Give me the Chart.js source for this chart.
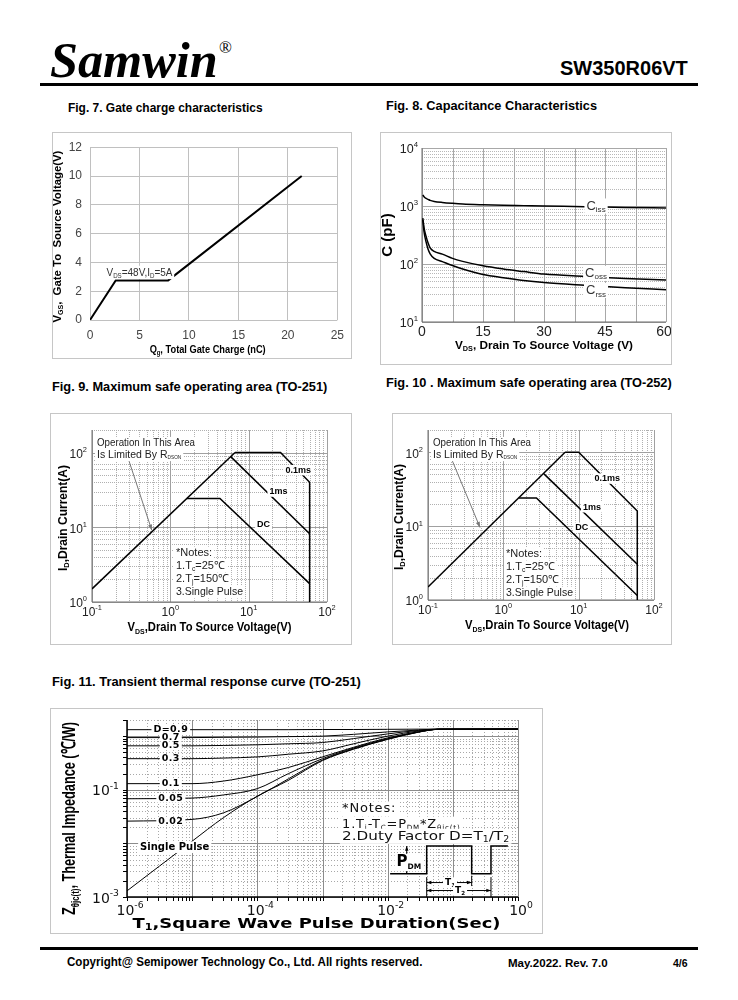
<!DOCTYPE html>
<html>
<head>
<meta charset="utf-8">
<title>SW350R06VT</title>
<script src="https://cdn.jsdelivr.net/npm/chart.js@4.4.1/dist/chart.umd.min.js"></script>
<style>
  body { margin: 0; width: 738px; height: 1000px; background: #fff; position: relative; overflow: hidden; font-family: "Liberation Sans", Arial, sans-serif; }
  .t { position: absolute; white-space: nowrap; transform-origin: 0 50%; line-height: 1; color: #000; }
  .rule { position: absolute; background: #000; }
  canvas { position: absolute; }
</style>
</head>
<body>
<div class="t" data-w="168" style="left:50px;top:60px;font:italic bold 50px 'Liberation Serif',serif;">Samwin</div>
<div class="t" style="left:219px;top:48px;font:17px 'Liberation Serif',serif;">®</div>
<div class="t" data-w="128" style="left:560px;top:68px;font:bold 20px 'Liberation Sans',Arial,sans-serif;">SW350R06VT</div>
<div class="rule" style="left:40px;top:83px;width:658px;height:3px;"></div>

<div class="t" data-w="195" style="left:68px;top:108px;font:bold 12.5px 'Liberation Sans',Arial,sans-serif;">Fig. 7. Gate charge characteristics</div>
<div class="t" data-w="211" style="left:386px;top:106px;font:bold 12.5px 'Liberation Sans',Arial,sans-serif;">Fig. 8. Capacitance Characteristics</div>
<div class="t" data-w="275" style="left:52px;top:387px;font:bold 12.5px 'Liberation Sans',Arial,sans-serif;">Fig. 9. Maximum safe operating area (TO-251)</div>
<div class="t" data-w="286" style="left:386px;top:383px;font:bold 12.5px 'Liberation Sans',Arial,sans-serif;">Fig. 10 . Maximum safe operating area (TO-252)</div>
<div class="t" data-w="309" style="left:52px;top:682px;font:bold 12.5px 'Liberation Sans',Arial,sans-serif;">Fig. 11. Transient thermal response curve (TO-251)</div>

<div class="rule" style="left:40px;top:947px;width:658px;height:3px;"></div>
<div class="t" data-w="355" style="left:67px;top:962px;font:bold 12px 'Liberation Sans',Arial,sans-serif;">Copyright@ Semipower Technology Co., Ltd. All rights reserved.</div>
<div class="t" data-w="100" style="left:508px;top:963px;font:bold 10.5px 'Liberation Sans',Arial,sans-serif;">May.2022. Rev. 7.0</div>
<div class="t" data-w="15" style="left:673px;top:963px;font:bold 10.5px 'Liberation Sans',Arial,sans-serif;">4/6</div>

<script>
// ---------- data ----------
// Fig. 7 gate charge
const qgCharge = [0, 2.6, 7.9, 21.4];
const qgVgs = [0, 2.75, 2.75, 10];

// Fig. 8 capacitance
const capVds = [0.2, 0.5, 1, 1.5, 2, 3, 5, 7.5, 10, 15, 20, 25, 30, 40, 50, 60];
const ciss = [1550, 1450, 1350, 1300, 1250, 1200, 1150, 1110, 1080, 1050, 1030, 1015, 1000, 975, 945, 925];
const coss = [620, 420, 300, 230, 190, 165, 148, 125, 111, 93, 82, 74, 67, 61, 56, 53];
const crss = [580, 360, 240, 180, 150, 125, 110, 94, 82, 66, 58, 52, 48, 43, 39, 36];

// Fig. 9 SOA TO-251  [Vds, Id]
const soa251Rds = [[0.1, 1.5], [6.7, 100]];
const soa251P01 = [[6.7, 100], [25.5, 100], [60, 40], [60, 1]];
const soa251P1 = [[5.9, 88], [60, 8.2]];
const soa251DC = [[1.62, 24.3], [4.3, 24.3], [60, 1.76]];

// Fig. 10 SOA TO-252
const soa252Rds = [[0.1, 1.5], [6.6, 100]];
const soa252P01 = [[6.6, 100], [10, 100], [60, 16], [60, 1]];
const soa252P1 = [[3.46, 51], [60, 3.05]];
const soa252DC = [[1.6, 24], [2.75, 24], [60, 1.15]];

// Fig. 11 transient thermal impedance
const zthT = [1e-6, 1e-5, 3e-5, 1e-4, 3e-4, 1e-3, 3e-3, 1e-2, 3e-2, 6e-2, 1];
const zthD09 = [1.32, 1.32, 1.32, 1.32, 1.32, 1.33, 1.33, 1.34, 1.35, 1.35, 1.35];
const zthD07 = [0.94, 0.94, 0.95, 0.96, 0.98, 1.0, 1.08, 1.2, 1.3, 1.35, 1.35];
const zthD05 = [0.66, 0.66, 0.67, 0.69, 0.72, 0.76, 0.9, 1.1, 1.28, 1.35, 1.35];
const zthD03 = [0.38, 0.38, 0.39, 0.41, 0.46, 0.53, 0.72, 1.0, 1.25, 1.34, 1.35];
const zthD01 = [0.13, 0.13, 0.145, 0.19, 0.26, 0.41, 0.62, 0.93, 1.21, 1.34, 1.35];
const zthD005 = [0.068, 0.07, 0.08, 0.105, 0.2, 0.38, 0.6, 0.9, 1.2, 1.34, 1.35];
const zthD002 = [0.026, 0.028, 0.037, 0.075, 0.16, 0.36, 0.58, 0.88, 1.19, 1.34, 1.35];
const zthSingle = [0.0013, 0.011, 0.03, 0.076, 0.15, 0.35, 0.57, 0.87, 1.19, 1.34, 1.35];
const dutyLabels = ["D=0.9", "0.7", "0.5", "0.3", "0.1", "0.05", "0.02"];

// pulse sketch in the notes of fig. 11
const pulseX = [0.0109, 0.0397, 0.0397, 0.1945, 0.1945, 0.385, 0.385, 0.70];
const pulseY = [0.00272, 0.00272, 0.00889, 0.00889, 0.00272, 0.00272, 0.00889, 0.00889];

// ---------- helpers ----------
const SANS = '"Liberation Sans", Arial, sans-serif';
const WIDE = '"DejaVu Sans", Verdana, sans-serif';

document.querySelectorAll('.t[data-w]').forEach(el => {
    const k = parseFloat(el.dataset.w) / el.offsetWidth;
    el.style.transform = 'translateY(-50%) scaleX(' + k + ')';
});
document.querySelectorAll('.t:not([data-w])').forEach(el => {
    el.style.transform = 'translateY(-50%)';
});

// parts: "_x" = subscript, "^x" = superscript
function richText(ctx, parts, x, y, st) {
    const size = st.size || 12;
    const fam = st.family || SANS;
    const weight = st.weight || 'normal';
    const segs = parts.map(p => {
        let mode = 0, txt = p;
        if (p[0] === '_') { mode = 1; txt = p.slice(1); }
        else if (p[0] === '^') { mode = 2; txt = p.slice(1); }
        return { txt: txt, mode: mode, fs: mode ? size * (st.subScale || 0.62) : size };
    });
    ctx.save();
    ctx.translate(x, y);
    if (st.rotate) ctx.rotate(st.rotate);
    ctx.letterSpacing = (st.ls || 0) + 'px';
    let w = 0;
    segs.forEach(s => {
        ctx.font = weight + ' ' + s.fs + 'px ' + fam;
        s.w = ctx.measureText(s.txt).width;
        w += s.w;
    });
    const sx = st.fitW ? st.fitW / w : (st.sx || 1);
    ctx.scale(sx, 1);
    let cx = st.align === 'center' ? -w / 2 : st.align === 'right' ? -w : 0;
    if (st.bg) {
        const bh = size * (st.bgH || 1.16);
        ctx.fillStyle = st.bg;
        ctx.fillRect(cx - 2, -bh / 2, w + 4, bh);
    }
    ctx.fillStyle = st.color || '#000';
    ctx.textBaseline = 'middle';
    segs.forEach(s => {
        ctx.font = weight + ' ' + s.fs + 'px ' + fam;
        const dy = s.mode === 1 ? size * 0.3 : s.mode === 2 ? -size * 0.38 : 0;
        ctx.fillText(s.txt, cx, dy);
        cx += s.w;
    });
    ctx.restore();
}

function arrowHead(ctx, x1, y1, x2, y2, len) {
    const a = Math.atan2(y2 - y1, x2 - x1);
    ctx.beginPath();
    ctx.moveTo(x2, y2);
    ctx.lineTo(x2 - len * Math.cos(a - 0.35), y2 - len * Math.sin(a - 0.35));
    ctx.lineTo(x2 - len * Math.cos(a + 0.35), y2 - len * Math.sin(a + 0.35));
    ctx.closePath();
    ctx.fill();
}

function decades(lo, hi) {
    const out = [];
    for (let d = lo; d <= hi * 1.0001; d *= 10) out.push(d);
    return out;
}
function minors(lo, hi, top) {
    const out = [];
    for (let d = lo; d < hi * 0.999; d *= 10) {
        for (let m = 2; m <= 9; m++) if (d * m <= top * 1.0001) out.push(d * m);
    }
    return out;
}

// inline plugin: own grid lines behind the data, texts on top
function paper(cfg) {
    return {
        id: 'paper',
        beforeDatasetsDraw(chart) {
            const { ctx, chartArea: a, scales: { x, y } } = chart;
            const line = (x1, y1, x2, y2) => { ctx.beginPath(); ctx.moveTo(x1, y1); ctx.lineTo(x2, y2); ctx.stroke(); };
            const px = v => Math.round(x.getPixelForValue(v)) + 0.5;
            const py = v => Math.round(y.getPixelForValue(v)) + 0.5;
            ctx.save();
            ctx.lineWidth = 1;
            ctx.strokeStyle = cfg.minorColor || '#b4b4b4';
            ctx.setLineDash(cfg.minorDash || [1, 1]);
            (cfg.xMinor || []).forEach(v => line(px(v), a.top, px(v), a.bottom));
            (cfg.yMinor || []).forEach(v => line(a.left, py(v), a.right, py(v)));
            ctx.setLineDash([]);
            ctx.strokeStyle = cfg.majorColor || '#9a9a9a';
            (cfg.xMajor || []).forEach(v => line(px(v), a.top, px(v), a.bottom));
            (cfg.yMajor || []).forEach(v => line(a.left, py(v), a.right, py(v)));
            if (cfg.outTicks) {
                ctx.strokeStyle = '#000';
                (cfg.xMajor || []).concat(cfg.xMinor || []).forEach(v => line(px(v), a.bottom, px(v), a.bottom + 4));
                (cfg.yMajor || []).concat(cfg.yMinor || []).forEach(v => line(a.left - 4, py(v), a.left, py(v)));
            }
            if (cfg.axisColor) {
                ctx.strokeStyle = cfg.axisColor;
                ctx.lineWidth = cfg.axisWidth || 1;
                line(a.left, a.top, a.left, a.bottom);
                line(a.left, a.bottom, a.right, a.bottom);
            }
            ctx.restore();
        },
        afterDatasetsDraw(chart) {
            const { ctx, chartArea: a, scales: { x, y } } = chart;
            ctx.save();
            if (cfg.extra) cfg.extra(ctx, a, x, y);
            (cfg.xTicks || []).forEach(t => richText(ctx, t[1], x.getPixelForValue(t[0]) + (cfg.xTickDx || 0), a.bottom + cfg.xTickGap, cfg.tickStyle));
            (cfg.yTicks || []).forEach(t => richText(ctx, t[1], a.left - cfg.yTickGap, y.getPixelForValue(t[0]) + (cfg.yTickDy || 0), Object.assign({}, cfg.tickStyle, { align: 'right' })));
            (cfg.texts || []).forEach(t => {
                const p = t.at ? t.at(a) : [x.getPixelForValue(t.x), y.getPixelForValue(t.y)];
                richText(ctx, t.parts, p[0] + (t.dx || 0), p[1] + (t.dy || 0), t);
            });
            ctx.restore();
        }
    };
}

function mount(box) {
    const c = document.createElement('canvas');
    c.width = box[2];
    c.height = box[3];
    c.style.cssText = 'left:' + box[0] + 'px;top:' + box[1] + 'px;width:' + box[2] + 'px;height:' + box[3] + 'px;outline:1.5px solid #c6c6c6;outline-offset:-1.5px';
    document.body.appendChild(c);
    return c;
}

// box = [left, top, w, h] on the page, area = [left, top, right, bottom] of the plot
function makeChart(box, area, datasets, xOpt, yOpt, plugin) {
    const canvas = mount(box);
    const yW = area[0] - box[0];
    const xH = box[1] + box[3] - area[3];
    return new Chart(canvas, {
        type: 'scatter',
        data: { datasets: datasets },
        options: {
            responsive: false,
            animation: false,
            events: [],
            layout: { padding: { left: 0, top: area[1] - box[1], right: box[0] + box[2] - area[2], bottom: 0 } },
            plugins: { legend: { display: false }, tooltip: { enabled: false } },
            scales: {
                x: Object.assign({ afterFit: s => { s.height = xH; } }, xOpt),
                y: Object.assign({ afterFit: s => { s.width = yW; } }, yOpt)
            }
        },
        plugins: [plugin]
    });
}

const pts = arr => arr.map(p => ({ x: p[0], y: p[1] }));
const zip = (xs, ys) => xs.map((v, i) => ({ x: v, y: ys[i] }));
const lineDs = (data, w, extra) => Object.assign({
    data: data, showLine: true, borderColor: '#000', borderWidth: w,
    pointRadius: 0, tension: 0, fill: false
}, extra || {});
const hiddenLog = (min, max) => ({
    type: 'logarithmic', min: min, max: max,
    ticks: { display: false }, grid: { display: false }, border: { display: false }
});
const hiddenLin = (min, max) => ({
    type: 'linear', min: min, max: max,
    ticks: { display: false }, grid: { display: false }, border: { display: false }
});
const rotL = -Math.PI / 2;

// ---------- Fig. 7 ----------
makeChart([52, 132, 300, 227], [90, 145, 340, 320],
    [lineDs(zip(qgCharge, qgVgs), 2)],
    {
        type: 'linear', min: 0, max: 25,
        ticks: { stepSize: 5, color: '#454545', font: { family: SANS, size: 12 }, padding: 8 },
        grid: { color: '#c0c0c0', drawTicks: false }, border: { display: false }
    },
    {
        type: 'linear', min: 0, max: 12,
        ticks: { stepSize: 2, color: '#454545', font: { family: SANS, size: 12 }, padding: 8 },
        grid: { color: '#c0c0c0', drawTicks: false }, border: { display: false }
    },
    paper({
        texts: [
            { parts: ['V', '_DS', '=48V,I', '_D', '=5A'], x: 5, y: 3.3, align: 'center', size: 11.5, color: '#333', bg: '#fff', fitW: 66 },
            { parts: ['Q', '_g', ', Total Gate Charge (nC)'], at: a => [(a.left + a.right) / 2 - 6, a.bottom + 30], align: 'center', size: 11, weight: 'bold', fitW: 116 },
            { parts: ['V', '_GS', ',  Gate To  Source Voltage(V)'], at: a => [a.left - 32, (a.top + a.bottom) / 2 + 3], align: 'center', size: 11, weight: 'bold', rotate: rotL, fitW: 172 }
        ]
    })
);

// ---------- Fig. 8 ----------
makeChart([380, 132, 292, 233], [422, 148, 666, 322],
    [
        lineDs(zip(capVds, ciss), 1.5, { cubicInterpolationMode: 'monotone' }),
        lineDs(zip(capVds, coss), 1.5, { cubicInterpolationMode: 'monotone' }),
        lineDs(zip(capVds, crss), 1.5, { cubicInterpolationMode: 'monotone' })
    ],
    hiddenLin(0, 60),
    hiddenLog(10, 10000),
    paper({
        xMajor: [0, 7.5, 15, 22.5, 30, 37.5, 45, 52.5, 60],
        yMajor: decades(10, 10000),
        yMinor: minors(10, 10000, 10000),
        majorColor: '#a8a8a8', minorColor: '#b8b8b8',
        axisColor: '#6a6a6a',
        yTicks: [[10, ['10', '^1']], [100, ['10', '^2']], [1000, ['10', '^3']], [10000, ['10', '^4']]],
        yTickGap: 4, yTickDy: 2,
        tickStyle: { size: 12.5, color: '#222' },
        texts: [
            { parts: ['0'], x: 0, y: 10, dy: 10, align: 'center', size: 14, color: '#222' },
            { parts: ['15'], x: 15, y: 10, dy: 10, align: 'center', size: 14, color: '#222' },
            { parts: ['30'], x: 30, y: 10, dy: 10, align: 'center', size: 14, color: '#222' },
            { parts: ['45'], x: 45, y: 10, dy: 10, align: 'center', size: 14, color: '#222' },
            { parts: ['60'], x: 60, y: 10, dy: 10, dx: -2, align: 'center', size: 14, color: '#222' },
            { parts: ['C', '_iss'], x: 42.8, y: 1000, align: 'center', size: 13, color: '#333', bg: '#fff' },
            { parts: ['C', '_oss'], x: 42.8, y: 69, align: 'center', size: 13, color: '#333', bg: '#fff' },
            { parts: ['C', '_rss'], x: 42.8, y: 35, align: 'center', size: 13, color: '#333', bg: '#fff' },
            { parts: ['V', '_DS', ', Drain To Source Voltage (V)'], at: a => [(a.left + a.right) / 2, a.bottom + 24], align: 'center', size: 11.5, weight: 'bold', fitW: 178 },
            { parts: ['C (pF)'], at: a => [a.left - 34, (a.top + a.bottom) / 2], align: 'center', size: 15, weight: 'bold', rotate: rotL }
        ]
    })
);

// ---------- Fig. 9 / 10 ----------
function soaChart(box, area, rds, p01, p1, dc, lab, arrow, notesAt, titleDx) {
    return makeChart(box, area,
        [lineDs(pts(rds), 1.5), lineDs(pts(p01), 1.5), lineDs(pts(p1), 1.5), lineDs(pts(dc), 1.5)],
        hiddenLog(0.1, 100),
        hiddenLog(1, 200),
        paper({
            xMajor: decades(0.1, 100),
            xMinor: minors(0.1, 100, 100),
            yMajor: decades(1, 100),
            yMinor: minors(1, 200, 200),
            majorColor: '#a0a0a0', minorColor: '#b0b0b0',
            axisColor: '#707070',
            xTicks: [[0.1, ['10', '^-1']], [1, ['10', '^0']], [10, ['10', '^1']], [100, ['10', '^2']]],
            xTickGap: 11, xTickDx: 0,
            yTicks: [[1, ['10', '^0']], [10, ['10', '^1']], [100, ['10', '^2']]],
            yTickGap: 5, yTickDy: 2,
            tickStyle: { size: 12, color: '#222', align: 'center' },
            extra: (ctx, a, x, y) => {
                const x1 = x.getPixelForValue(arrow[0]), y1 = y.getPixelForValue(arrow[1]);
                const x2 = x.getPixelForValue(arrow[2]), y2 = y.getPixelForValue(arrow[3]);
                ctx.strokeStyle = '#777';
                ctx.fillStyle = '#777';
                ctx.lineWidth = 1;
                ctx.beginPath(); ctx.moveTo(x1, y1); ctx.lineTo(x2, y2); ctx.stroke();
                arrowHead(ctx, x1, y1, x2, y2, 6);
            },
            texts: [
                { parts: ['Operation In This Area'], at: a => [a.left + 5, a.top + 13], size: 10.5, color: '#222', bg: '#fff', fitW: 98 },
                { parts: ['Is Limited By R', '_DSON'], at: a => [a.left + 5, a.top + 25], size: 10.5, color: '#222', bg: '#fff', subScale: 0.45 },
                { parts: ['0.1ms'], x: lab[0][0], y: lab[0][1], align: 'center', size: 9, weight: 'bold', bg: '#fff' },
                { parts: ['1ms'], x: lab[1][0], y: lab[1][1], align: 'center', size: 9, weight: 'bold', bg: '#fff' },
                { parts: ['DC'], x: lab[2][0], y: lab[2][1], align: 'center', size: 9, weight: 'bold', bg: '#fff' },
                { parts: ['*Notes:'], at: a => [notesAt[0], notesAt[1]], size: 11, color: '#222', bg: '#fff' },
                { parts: ['1.T', '_c', '=25℃'], at: a => [notesAt[0], notesAt[1] + 13], size: 11, color: '#222', bg: '#fff' },
                { parts: ['2.T', '_j', '=150℃'], at: a => [notesAt[0], notesAt[1] + 26], size: 11, color: '#222', bg: '#fff' },
                { parts: ['3.Single Pulse'], at: a => [notesAt[0], notesAt[1] + 39], size: 11, color: '#222', bg: '#fff', fitW: 67 },
                { parts: ['V', '_DS', ',Drain To Source Voltage(V)'], at: a => [(a.left + a.right) / 2 + titleDx, a.bottom + 26], align: 'center', size: 12, weight: 'bold', fitW: 164 },
                { parts: ['I', '_D', ',Drain Current(A)'], at: a => [a.left - 29, (a.top + a.bottom) / 2 + 2], align: 'center', size: 13, weight: 'bold', rotate: rotL, fitW: 106 }
            ]
        })
    );
}

soaChart([50, 413, 302, 232], [92, 430, 327, 602],
    soa251Rds, soa251P01, soa251P1, soa251DC,
    [[43, 58], [24, 30], [15.5, 11]],
    [0.29, 83, 0.58, 9.1],
    [176 - 50, 553 - 413], 0);

soaChart([392, 413, 280, 232], [428, 430, 654, 600],
    soa252Rds, soa252P01, soa252P1, soa252DC,
    [[24, 44], [15, 18], [11, 9.5]],
    [0.196, 91, 0.49, 9.6],
    [506 - 392, 554 - 413], 6);

// ---------- Fig. 11 ----------
const zthSeries = [zthD09, zthD07, zthD05, zthD03, zthD01, zthD005, zthD002];
const labelT = 4.7e-6;
makeChart([50, 708, 493, 226], [127, 720, 518, 897],
    zthSeries.concat([zthSingle]).map(s => lineDs(zip(zthT, s), 1, { cubicInterpolationMode: 'monotone' }))
        .concat([lineDs(zip(pulseX, pulseY), 1.5)]),
    hiddenLog(1e-6, 1),
    hiddenLog(1e-3, 2),
    paper({
        xMajor: decades(1e-6, 1),
        xMinor: minors(1e-6, 1, 1),
        yMajor: decades(1e-3, 1),
        yMinor: minors(1e-3, 2, 2),
        majorColor: '#8c8c8c', minorColor: '#a8a8a8', minorDash: [1, 2],
        axisColor: '#000', axisWidth: 1.5, outTicks: true,
        xTicks: [[1e-6, ['10', '^-6']], [1e-4, ['10', '^-4']], [1e-2, ['10', '^-2']], [1, ['10', '^0']]],
        xTickGap: 14, xTickDx: 3,
        yTicks: [[1e-3, ['10', '^-3']], [1e-1, ['10', '^-1']]],
        yTickGap: 8, yTickDy: 2,
        tickStyle: { size: 14, color: '#111', family: WIDE, align: 'center', subScale: 0.66 },
        extra: (ctx, a, x, y) => {
            ctx.strokeStyle = '#000';
            ctx.fillStyle = '#000';
            ctx.lineWidth = 1;
            const L = (x1, y1, x2, y2) => { ctx.beginPath(); ctx.moveTo(x1, y1); ctx.lineTo(x2, y2); ctx.stroke(); };
            const X = v => x.getPixelForValue(v), Y = v => y.getPixelForValue(v);
            // P_DM double arrow
            L(X(0.0196), Y(0.00889), X(0.0196), Y(0.00272));
            arrowHead(ctx, X(0.0196), Y(0.0045), X(0.0196), Y(0.00889), 5);
            arrowHead(ctx, X(0.0196), Y(0.0045), X(0.0196), Y(0.00272), 5);
            // T1, T2 spans
            L(X(0.0397), Y(0.00235), X(0.0397), Y(0.001));
            L(X(0.385), Y(0.00235), X(0.385), Y(0.001));
            L(X(0.1945), Y(0.0025), X(0.1945), Y(0.0016));
            L(X(0.0397), Y(0.00186), X(0.1945), Y(0.00186));
            arrowHead(ctx, X(0.09), Y(0.00186), X(0.0397), Y(0.00186), 5);
            arrowHead(ctx, X(0.09), Y(0.00186), X(0.1945), Y(0.00186), 5);
            L(X(0.0397), Y(0.00132), X(0.385), Y(0.00132));
            arrowHead(ctx, X(0.13), Y(0.00132), X(0.0397), Y(0.00132), 5);
            arrowHead(ctx, X(0.13), Y(0.00132), X(0.385), Y(0.00132), 5);
        },
        texts: dutyLabels.map((s, i) => ({
            parts: [s], x: labelT, y: zthSeries[i][0],
            align: 'center', size: 9.5, weight: 'bold', family: WIDE, bg: '#fff', bgH: 0.8, ls: 0.4
        })).concat([
            { parts: ['Single Pulse'], x: 5.4e-6, y: 0.0085, align: 'center', size: 10, weight: 'bold', family: WIDE, bg: '#fff' },
            { parts: ['*Notes:'], x: 0.002, y: 0.0438, size: 13, family: WIDE, color: '#111', bg: '#fff', ls: 0.8 },
            { parts: ['1.T', '_j', '-T', '_C', '=P', '_DM', '*Z', '_θjc(t)'], x: 0.002, y: 0.0228, size: 13, family: WIDE, color: '#111', bg: '#fff', ls: 0.8, subScale: 0.55 },
            { parts: ['2.Duty Factor D=T', '_1', '/T', '_2'], x: 0.002, y: 0.01355, size: 13, family: WIDE, color: '#111', bg: '#fff', fitW: 167 },
            { parts: ['P', '_DM'], x: 0.0212, y: 0.00439, align: 'center', size: 15, weight: 'bold', family: WIDE, bg: '#fff', subScale: 0.5 },
            { parts: ['T', '_1'], x: 0.0905, y: 0.00186, align: 'center', size: 9, weight: 'bold', family: WIDE, bg: '#fff' },
            { parts: ['T', '_2'], x: 0.129, y: 0.00132, align: 'center', size: 9, weight: 'bold', family: WIDE, bg: '#fff' },
            { parts: ['T', '_1', ',Square Wave Pulse Duration(Sec)'], at: a => [(a.left + a.right) / 2 - 6, a.bottom + 27], align: 'center', size: 14, weight: 'bold', family: WIDE, fitW: 368 },
            { parts: ['Z', '_θjc(t)', ', Thermal Impedance (℃/W)'], at: a => [a.left - 57, (a.top + a.bottom) / 2 + 10], align: 'center', size: 19, weight: 'bold', rotate: rotL, fitW: 193 }
        ])
    })
);
</script>
</body>
</html>
